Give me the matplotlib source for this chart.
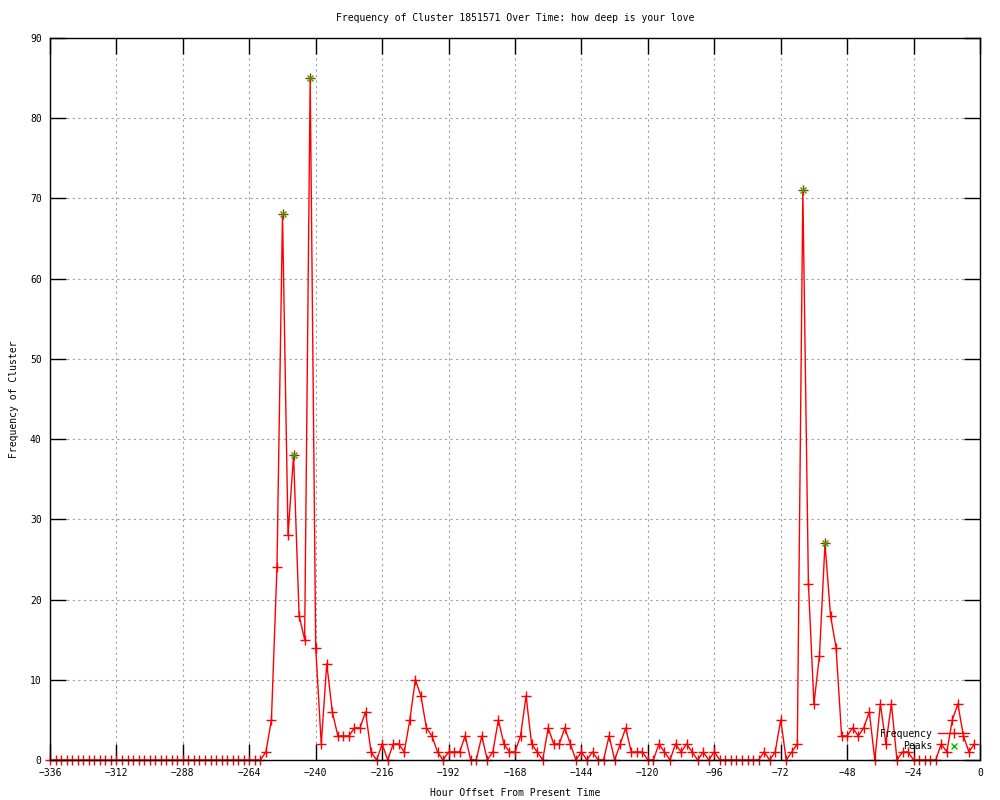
import numpy as np
import matplotlib
matplotlib.use("Agg")
import matplotlib.pyplot as plt

# hour offsets, every 2 hours from -336 to -2
hours = np.arange(-336, 0, 2)

freq = [0, 0, 0, 0, 0, 0, 0, 0, 0, 0,
        0, 0, 0, 0, 0, 0, 0, 0, 0, 0,
        0, 0, 0, 0, 0, 0, 0, 0, 0, 0,
        0, 0, 0, 0, 0, 0, 0, 0, 0,        # -336 .. -260
        1, 5, 24, 68, 28, 38, 18, 15, 85, 14,   # -258 .. -240
        2, 12, 6, 3, 3, 3, 4, 4, 6, 1,          # -238 .. -220
        0, 2, 0, 2, 2, 1, 5, 10, 8, 4,          # -218 .. -200
        3, 1, 0, 1, 1, 1, 3, 0, 0, 3,           # -198 .. -180
        0, 1, 5, 2, 1, 1, 3, 8, 2, 1,           # -178 .. -160
        0, 4, 2, 2, 4, 2, 0, 1, 0, 1,           # -158 .. -140
        0, 0, 3, 0, 2, 4, 1, 1, 1, 0,           # -138 .. -120
        0, 2, 1, 0, 2, 1, 2, 1, 0, 1,           # -118 .. -100
        0, 1, 0, 0, 0, 0, 0, 0, 0, 0,           # -98 .. -80
        1, 0, 1, 5, 0, 1, 2, 71, 22, 7,         # -78 .. -60
        13, 27, 18, 14, 3, 3, 4, 3, 4, 6,       # -58 .. -40
        0, 7, 2, 7, 0, 1, 1, 0, 0, 0,           # -38 .. -20
        0, 0, 2, 1, 5, 7, 3, 1, 2]              # -18 .. -2

peak_hours = [-252, -248, -242, -64, -56]
peak_vals = [68, 38, 85, 71, 27]

plt.rcParams['font.family'] = ['DejaVu Sans Mono']
plt.rcParams['font.size'] = 7

fig = plt.figure(figsize=(10, 8), dpi=100)
ax = fig.add_axes([0.05, 0.05, 0.93, 0.9025])

ax.plot(hours, freq, color='#ff0000', lw=1, marker='+', ms=7, mew=1,
        label='Frequency', clip_on=False, zorder=3)
ax.plot(peak_hours, peak_vals, ls='none', color='#00c000', marker='x', ms=5,
        mew=1, label='Peaks', zorder=4)

ax.set_xlim(-336, 0)
ax.set_ylim(0, 90)
ax.set_xticks(np.arange(-336, 1, 24))
ax.set_yticks(np.arange(0, 91, 10))
ax.grid(True, color='#a0a0a0', ls=(0, (2, 3)), lw=0.8)
ax.tick_params(direction='in', length=11.5, width=1, top=True, right=True,
               pad=6, labelsize=7)
for s in ax.spines.values():
    s.set_linewidth(1)
    s.set_zorder(5)

ax.set_title('Frequency of Cluster 1851571 Over Time: how deep is your love',
             fontsize=7, pad=12)
ax.set_xlabel('Hour Offset From Present Time', fontsize=7, labelpad=7)
ax.set_ylabel('Frequency of Cluster', fontsize=7, labelpad=8)

ax.legend(loc='lower right', bbox_to_anchor=(0.998, 0.0), frameon=False,
          markerfirst=False, fontsize=7, handlelength=3.2,
          labelspacing=0.25, borderpad=0.4, handletextpad=0.6)

fig.savefig('out.png', dpi=100)
